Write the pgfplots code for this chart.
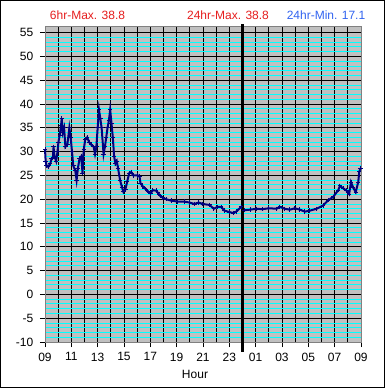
\documentclass[border=0pt]{standalone}
\usepackage{fontspec}
\setmainfont{Liberation Sans}
\usepackage{pgfplots}
\pgfplotsset{compat=1.18}
\definecolor{bgray}{RGB}{192,192,192}
\definecolor{navyblue}{RGB}{0,0,128}
\definecolor{gridcyan}{RGB}{0,255,255}
\definecolor{tred}{RGB}{230,30,30}
\definecolor{tblue}{RGB}{50,100,240}
\pgfplotstableread{
t v
0.00 30.5
0.05 28.0
0.12 27.0
0.25 26.8
0.40 27.5
0.50 28.5
0.60 28.7
0.65 31.0
0.72 29.0
0.85 28.0
0.95 30.0
1.02 32.0
1.12 33.5
1.22 35.5
1.27 37.0
1.35 34.0
1.45 35.0
1.55 31.0
1.70 31.5
1.85 35.0
1.95 33.0
2.05 30.0
2.15 27.0
2.30 26.0
2.40 24.0
2.50 26.5
2.62 28.5
2.75 29.0
2.85 25.5
2.95 30.5
3.05 32.5
3.20 33.0
3.35 32.0
3.50 31.5
3.70 31.0
3.80 29.5
3.90 31.0
4.00 35.0
4.10 38.8
4.20 37.0
4.30 35.0
4.45 29.5
4.55 31.0
4.65 33.0
4.75 35.0
4.85 36.5
4.95 38.8
5.05 36.0
5.15 33.0
5.25 29.0
5.35 27.5
5.45 28.0
5.55 26.5
5.70 24.0
5.85 22.5
5.95 21.6
6.10 22.0
6.25 23.8
6.40 25.5
6.55 25.7
6.70 25.0
7.05 25.0
7.18 24.8
7.25 23.4
7.43 22.7
7.61 22.2
7.81 21.7
8.01 21.2
8.19 21.9
8.44 21.8
8.57 21.4
8.75 20.7
8.95 20.3
9.20 20.0
9.58 19.7
10.09 19.5
10.60 19.5
10.97 19.3
11.35 19.0
11.66 19.3
11.99 19.0
12.49 18.8
12.82 18.0
13.13 18.4
13.38 18.4
13.63 17.6
14.01 17.3
14.30 17.1
14.52 17.4
14.90 18.4
15.15 17.7
15.57 17.8
16.07 18.0
16.50 17.9
17.00 18.1
17.59 18.0
17.84 18.4
18.20 18.0
18.60 17.8
18.98 18.1
19.36 17.8
19.74 17.4
20.12 17.6
20.63 18.0
21.13 18.7
21.51 19.8
21.89 20.5
22.27 21.9
22.40 22.8
22.65 22.3
22.90 21.8
23.10 21.1
23.24 23.6
23.41 22.4
23.60 21.5
23.79 23.6
23.87 25.8
23.97 26.5
}\temps
\begin{document}
\fontsize{12bp}{14bp}\selectfont
\begin{tikzpicture}
\useasboundingbox (-45bp,-46bp) rectangle (340bp,342bp);
\fill[white] (-45bp,-46bp) rectangle (340bp,342bp);
\begin{axis}[
  at={(0,0)}, anchor=south west,
  scale only axis, width=316bp, height=316bp,
  xmin=0, xmax=24, ymin=-10, ymax=56.4,
  clip=false,
  axis background/.style={fill=bgray},
  axis line style={draw=gray, line width=0.8bp},
  xtick={0,2,...,24},
  xticklabels={09,11,13,15,17,19,21,23,01,03,05,07,09},
  ytick={-10,-5,0,5,10,15,20,25,30,35,40,45,50,55},
  yticklabels={-10,-5,0,5,10,15,20,25,30,35,40,45,50,55},
  minor x tick num=1,
  minor y tick num=4,
  xtick pos=bottom, ytick pos=left,
  tick align=outside,
  major tick length=5bp, minor tick length=0pt,
  tick style={black, line width=0.8bp},
  grid=both,
  major grid style={black, line width=1bp},
  minor x grid style={black, line width=1bp},
  minor y grid style={gridcyan, line width=0.9bp},
  xticklabel style={yshift=-1.5bp, font=\fontsize{12bp}{14bp}\selectfont},
  yticklabel style={xshift=-2.5bp, font=\fontsize{12bp}{14bp}\selectfont},
]
\addplot[navyblue, line width=2bp, mark=+, mark size=2.2bp, mark options={line width=0.9bp}] table[x=t, y=v] {\temps};
\draw[black, line width=2.6bp] ([yshift=1.8bp]axis cs:15,56.4) -- ([yshift=-10bp]axis cs:15,-10);
\end{axis}
\node[text=tred, font=\fontsize{12bp}{14bp}\selectfont] at (42.5bp,327bp) {6hr-Max. 38.8};
\node[text=tred, font=\fontsize{12bp}{14bp}\selectfont] at (183bp,327bp) {24hr-Max. 38.8};
\node[text=tblue, font=\fontsize{12bp}{14bp}\selectfont] at (281bp,327bp) {24hr-Min. 17.1};
\node[font=\fontsize{12bp}{14bp}\selectfont] at (150bp,-32bp) {Hour};
\draw[black, line width=1bp] (-44.5bp,-45.5bp) rectangle (339.5bp,341.5bp);
\end{tikzpicture}
\end{document}
